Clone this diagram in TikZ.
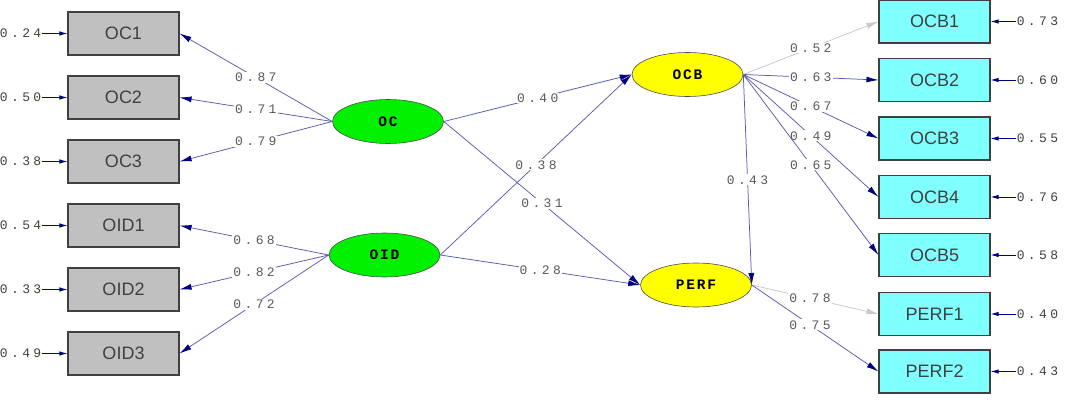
\documentclass[tikz,border=0pt]{standalone}
\usepackage{fontspec}
\setmainfont{Liberation Sans}
\newfontfamily\valfont{Liberation Mono}[LetterSpace=26]
\newfontfamily\latfont{Liberation Mono}[LetterSpace=12]
\usetikzlibrary{arrows.meta, positioning, shapes.geometric}
\definecolor{lineColor}{HTML}{5A5AB0}
\definecolor{tipColor}{HTML}{000080}
\definecolor{fixColor}{HTML}{C8C8C8}
\definecolor{obsGray}{HTML}{C0C0C0}
\definecolor{obsCyan}{HTML}{80FFFF}
\definecolor{latGreen}{HTML}{00F000}
\definecolor{latYellow}{HTML}{FFFF00}

\tikzset{
    obs/.style={draw=black!75, line width=1.1pt, minimum width=111pt, minimum height=43pt,
        inner sep=0pt, text=black!75, font=\fontsize{18}{18}\selectfont},
    lat/.style={ellipse, draw=black!70, line width=0.6pt, minimum width=111pt,
        minimum height=44pt, inner sep=0pt, font=\latfont\bfseries\fontsize{14.5}{14.5}\selectfont},
    load/.style={draw=lineColor, line width=0.75pt, -{Latex[length=12pt, width=6pt, color=tipColor]}},
    fixed/.style={draw=fixColor, line width=0.75pt, -{Latex[length=12pt, width=6pt]}},
    coef/.style={pos=0.5, fill=white, inner sep=1pt, text=black!65,
        font=\valfont\fontsize{13}{13}\selectfont},
    err/.style={inner sep=1pt, text=black!75, font=\valfont\fontsize{13}{13}\selectfont},
    errarrow/.style={draw=tipColor, line width=0.9pt, -{Latex[length=8pt, width=4.5pt, color=tipColor]}}
}

\begin{document}
\begin{tikzpicture}[x=1pt, y=-1pt]
    \useasboundingbox (0,0) rectangle (1067,404);

    % latent variables
    \node[lat, fill=latGreen] (OC) at (388,121.5) {OC};
    \node[lat, fill=latGreen] (OID) at (384.5,255) {OID};
    \node[lat, fill=latYellow] (OCB) at (687.5,74.5) {OCB};
    \node[lat, fill=latYellow] (PERF) at (696,285) {PERF};

    % indicators on the left
    \foreach \n/\y/\e in {OC1/33.5/0.24, OC2/97.5/0.50, OC3/161.5/0.38,
                          OID1/225.5/0.54, OID2/289.5/0.33, OID3/353.5/0.49} {
        \node[obs, fill=obsGray] (\n) at (123.5,\y) {\n};
        \node[err, left=25pt of \n] (e\n) {\e};
        \draw[errarrow] (e\n) -- (\n);
    }

    % indicators on the right
    \foreach \n/\y/\e in {OCB1/21.5/0.73, OCB2/80/0.60, OCB3/138.5/0.55, OCB4/197/0.76,
                          OCB5/255/0.58, PERF1/314/0.40, PERF2/371.5/0.43} {
        \node[obs, fill=obsCyan] (\n) at (934.5,\y) {\n};
        \node[err, right=25pt of \n] (e\n) {\e};
        \draw[errarrow] (e\n) -- (\n);
    }

    % loadings
    \foreach \b/\v in {OC1/0.87, OC2/0.71, OC3/0.79}
        \draw[load] (OC.west) -- (\b.east) node[coef] {\v};
    \foreach \b/\v in {OID1/0.68, OID2/0.82, OID3/0.72}
        \draw[load] (OID.west) -- (\b.east) node[coef] {\v};
    \draw[fixed] (OCB.east) -- (OCB1.west) node[coef] {0.52};
    \foreach \b/\v in {OCB2/0.63, OCB3/0.67, OCB4/0.49, OCB5/0.65}
        \draw[load] (OCB.east) -- (\b.west) node[coef] {\v};
    \draw[fixed] (PERF.east) -- (PERF1.west) node[coef, pos=0.46] {0.78};
    \draw[load] (PERF.east) -- (PERF2.west) node[coef, pos=0.46] {0.75};

    % structural paths
    \draw[load] (OC.east) -- (OCB.west) node[coef] {0.40};
    \draw[load] (OC.east) -- (PERF.west) node[coef] {0.31};
    \draw[load] (OID.east) -- (OCB.west) node[coef] {0.38};
    \draw[load] (OID.east) -- (PERF.west) node[coef] {0.28};
    \draw[load] (OCB.east) -- (PERF.east) node[coef] {0.43};
\end{tikzpicture}
\end{document}
